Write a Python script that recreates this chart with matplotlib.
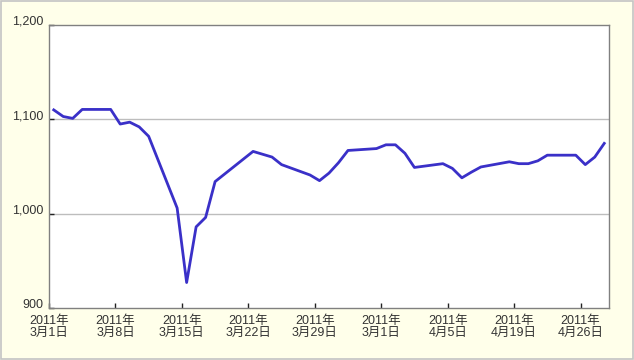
import matplotlib
matplotlib.use('Agg')
import matplotlib.pyplot as plt
from matplotlib.patches import Rectangle
import pandas as pd

plt.rcParams['font.family'] = ['Liberation Sans', 'Noto Sans CJK JP', 'DejaVu Sans']

# trading days (Japan) and values
dates = ['2011-03-01', '2011-03-02', '2011-03-03', '2011-03-04', '2011-03-07',
         '2011-03-08', '2011-03-09', '2011-03-10', '2011-03-11', '2011-03-14',
         '2011-03-15', '2011-03-16', '2011-03-17', '2011-03-18', '2011-03-22',
         '2011-03-23', '2011-03-24', '2011-03-25', '2011-03-28', '2011-03-29',
         '2011-03-30', '2011-03-31', '2011-04-01', '2011-04-04', '2011-04-05',
         '2011-04-06', '2011-04-07', '2011-04-08', '2011-04-11', '2011-04-12',
         '2011-04-13', '2011-04-14', '2011-04-15', '2011-04-18', '2011-04-19',
         '2011-04-20', '2011-04-21', '2011-04-22', '2011-04-25', '2011-04-26',
         '2011-04-27', '2011-04-28']
values = [1110, 1103, 1101, 1110.5, 1110.5,
          1095, 1097, 1092, 1082, 1006,
          927, 986, 996, 1034, 1066,
          1063, 1060, 1052, 1041, 1035,
          1043, 1054, 1067, 1069, 1073,
          1073, 1064, 1049, 1053, 1048,
          1038, 1044, 1049.5, 1055, 1053,
          1053, 1056, 1062, 1062, 1052,
          1060, 1074.5]

tick_dates = ['2011-03-01', '2011-03-08', '2011-03-15', '2011-03-22', '2011-03-29',
              '2011-04-05', '2011-04-12', '2011-04-19', '2011-04-26']
tick_labels = ['2011年\n3月1日', '2011年\n3月8日', '2011年\n3月15日', '2011年\n3月22日',
               '2011年\n3月29日', '2011年\n3月1日', '2011年\n4月5日', '2011年\n4月19日',
               '2011年\n4月26日']
y_ticks = [900, 1000, 1100, 1200]
y_labels = ['900', '1,000', '1,100', '1,200']

x = pd.to_datetime(dates) + pd.Timedelta(hours=12)

bg = '#ffffea'
fig = plt.figure(figsize=(6.34, 3.60), dpi=100, facecolor=bg)
fig.patches.append(Rectangle((0.0008, 0.0014), 0.9984, 0.9972, transform=fig.transFigure,
                             facecolor='none', edgecolor='#c4c4c4', linewidth=1.2))
ax = fig.add_axes([49 / 634, 1 - 308 / 360, 560 / 634, 283 / 360])
ax.set_facecolor('white')

for v in y_ticks[1:3]:
    ax.axhline(v, color='#bdbdbd', linewidth=1.0, zorder=1)

ax.plot(x, values, color='#3a30c8', linewidth=2.0, zorder=3)

ax.set_ylim(900, 1200)
ax.set_xlim(pd.Timestamp('2011-03-01'), pd.Timestamp('2011-04-29'))

ax.set_yticks(y_ticks)
ax.set_yticklabels(y_labels)
ax.set_xticks(pd.to_datetime(tick_dates))
ax.set_xticklabels(tick_labels, linespacing=1.0)

ax.tick_params(axis='both', direction='in', length=3.5, width=1, color='#222222',
               labelsize=9, labelcolor='#333333')
ax.tick_params(axis='y', pad=4)
ax.tick_params(axis='x', pad=5)
for lab in ax.get_yticklabels():
    lab.set_verticalalignment('baseline')

for s in ax.spines.values():
    s.set_color('#808080')
    s.set_linewidth(1.0)

fig.savefig('out.png', dpi=100, facecolor=bg)
